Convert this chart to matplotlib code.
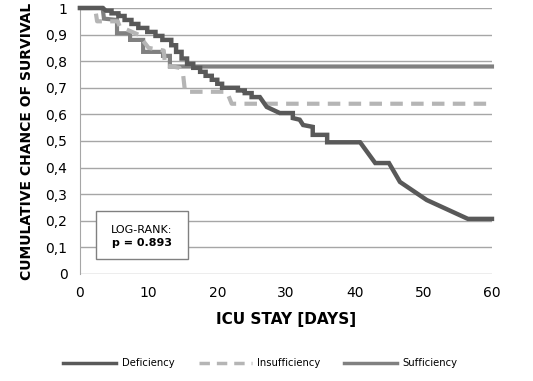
import matplotlib.pyplot as plt
from matplotlib.lines import Line2D
from matplotlib.patches import Rectangle

# survival curves (day, cumulative survival)
def_days = [0, 3.3, 3.8, 4.6, 4.6, 5.6, 5.6, 6.5, 6.5, 7.5, 7.5, 8.5, 8.5, 9.8, 9.8,
            11, 11, 12, 12, 13.3, 13.3, 14, 14, 14.8, 14.8, 15.6, 15.6, 16.5, 16.5,
            17.5, 17.5, 18.3, 18.3, 19.2, 19.2, 20, 20, 20.7, 20.7, 23, 23, 24, 24,
            25, 25, 26.2, 27.2, 29.1, 31.0, 31.0, 32.0, 32.5, 33.9, 33.9, 36.0, 36.0,
            40.8, 43.0, 45.0, 46.6, 50.5, 56.5, 60]
def_surv = [1, 1, 0.99, 0.99, 0.98, 0.98, 0.97, 0.97, 0.955, 0.955, 0.94, 0.94, 0.925,
            0.925, 0.91, 0.91, 0.895, 0.895, 0.88, 0.88, 0.86, 0.86, 0.835, 0.835, 0.81,
            0.81, 0.79, 0.79, 0.775, 0.775, 0.76, 0.76, 0.745, 0.745, 0.73, 0.73, 0.715,
            0.715, 0.70, 0.70, 0.69, 0.69, 0.68, 0.68, 0.665, 0.665, 0.628, 0.605, 0.605,
            0.586, 0.58, 0.56, 0.553, 0.523, 0.523, 0.495, 0.495, 0.417, 0.417, 0.346,
            0.278, 0.207, 0.207]

ins_days = [0, 2.2, 2.5, 5.5, 5.8, 8.5, 10, 12.2, 12.4, 14.5, 15.0, 15.3, 21.4, 22.1, 60]
ins_surv = [1, 1, 0.95, 0.95, 0.93, 0.9, 0.85, 0.84, 0.785, 0.775, 0.755, 0.685, 0.685,
            0.64, 0.64]

suf_days = [0, 3.3, 3.5, 5.4, 5.4, 7.3, 7.3, 9.2, 9.2, 12.1, 12.1, 13.1, 13.1, 60]
suf_surv = [1, 1, 0.96, 0.955, 0.905, 0.905, 0.88, 0.88, 0.835, 0.835, 0.82, 0.82,
            0.78, 0.78]

y_ticks = [0, 0.1, 0.2, 0.3, 0.4, 0.5, 0.6, 0.7, 0.8, 0.9, 1]
y_labels = ["0", "0,1", "0,2", "0,3", "0,4", "0,5", "0,6", "0,7", "0,8", "0,9", "1"]
x_ticks = [0, 10, 20, 30, 40, 50, 60]

c_def, c_ins, c_suf = "#595959", "#b5b5b5", "#808080"

fig = plt.figure(figsize=(5.33, 3.81), dpi=100)
ax = fig.add_axes([0.150, 0.281, 0.773, 0.698])

ax.plot(suf_days, suf_surv, color=c_suf, lw=3.0, solid_joinstyle="miter", zorder=3,
        clip_on=False)
ax.plot(ins_days, ins_surv, color=c_ins, lw=3.0, dashes=(3, 2), zorder=3)
ax.plot(def_days, def_surv, color=c_def, lw=3.2, solid_joinstyle="miter", zorder=4,
        clip_on=False)

ax.set_xlim(0, 60)
ax.set_ylim(0, 1)
ax.set_yticks(y_ticks, y_labels)
ax.set_xticks(x_ticks)
ax.grid(axis="y", color="#a6a6a6", lw=1.0)
ax.tick_params(length=0, labelsize=10, pad=9)
for s in ["top", "right", "bottom"]:
    ax.spines[s].set_visible(False)
ax.spines["left"].set_color("#a6a6a6")

ax.set_ylabel("CUMULATIVE CHANCE OF SURVIVAL", fontsize=10, fontweight="bold", labelpad=8)
ax.set_xlabel("ICU STAY [DAYS]", fontsize=11, fontweight="bold", labelpad=8)

# log-rank box
ax.add_patch(Rectangle((0.039, 0.056), 0.223, 0.181, transform=ax.transAxes,
                       fc="white", ec="#808080", lw=1.0, zorder=5))
ax.text(0.150, 0.165, "LOG-RANK:", transform=ax.transAxes, ha="center", va="center",
        fontsize=8, zorder=6)
ax.text(0.150, 0.118, "p = 0.893", transform=ax.transAxes, ha="center", va="center",
        fontsize=8, fontweight="bold", zorder=6)

handles = [
    Line2D([], [], color=c_def, lw=2.5),
    Line2D([], [], color=c_ins, lw=2.5, dashes=(3, 2)),
    Line2D([], [], color=c_suf, lw=2.5),
]
fig.legend(handles, ["Deficiency", "Insufficiency", "Sufficiency"], loc="center",
           bbox_to_anchor=(0.489, 0.047), ncol=3, frameon=False, fontsize=7.2,
           handlelength=5.3, columnspacing=2.4, handletextpad=0.55)

fig.savefig("out.png", dpi=100)
